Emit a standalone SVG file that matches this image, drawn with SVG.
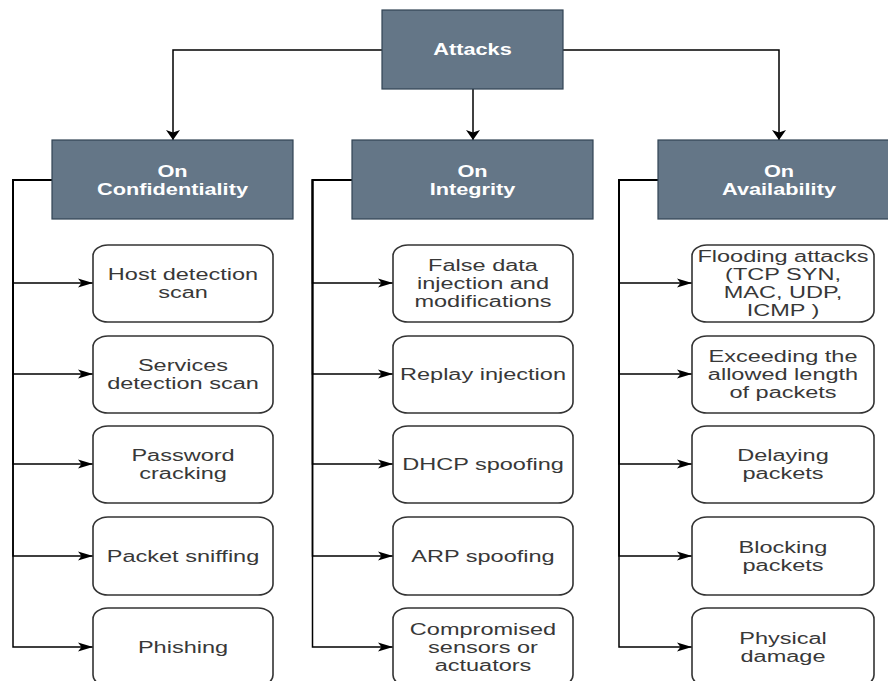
<svg xmlns="http://www.w3.org/2000/svg" width="888" height="681" viewBox="0 0 888 681">
  <style>
    .hdr { fill: #647687; stroke: #314354; stroke-width: 1.2; }
    .leaf { fill: #ffffff; stroke: #333333; stroke-width: 1.6; }
    .t { font-family: "Liberation Sans", Arial, sans-serif; font-size: 16px; text-anchor: middle; }
    .th { fill: #ffffff; font-weight: bold; }
    .tl { fill: #383838; }
    .edge { fill: none; stroke: #000000; stroke-width: 1.5; }
  </style>
  <defs>
    <marker id="arrH" markerUnits="userSpaceOnUse" orient="auto" markerWidth="20" markerHeight="12" refX="16" refY="6" viewBox="0 0 20 12">
      <path d="M16 6 L1 1.5 L4.5 6 L1 10.5 Z" fill="#000000"/>
    </marker>
    <marker id="arrV" markerUnits="userSpaceOnUse" orient="auto" markerWidth="14" markerHeight="18" refX="12" refY="9" viewBox="0 0 14 18">
      <path d="M12 9 L2 2 L4.5 9 L2 16 Z" fill="#000000"/>
    </marker>
  </defs>
  <rect width="888" height="681" fill="#ffffff"/>

  <g id="connectors">
    <path class="edge" d="M382 50 H173 V140" marker-end="url(#arrV)"/>
    <path class="edge" d="M473 89 V140" marker-end="url(#arrV)"/>
    <path class="edge" d="M563 50 H779 V140" marker-end="url(#arrV)"/>

    <path class="edge" d="M52 180 H13 V283 H93" marker-end="url(#arrH)"/>
    <path class="edge" d="M52 180 H13 V374 H93" marker-end="url(#arrH)"/>
    <path class="edge" d="M52 180 H13 V464 H93" marker-end="url(#arrH)"/>
    <path class="edge" d="M52 180 H13 V556 H93" marker-end="url(#arrH)"/>
    <path class="edge" d="M52 180 H13 V647 H93" marker-end="url(#arrH)"/>

    <path class="edge" d="M352 180 H312.5 V283 H393" marker-end="url(#arrH)"/>
    <path class="edge" d="M352 180 H312.5 V374 H393" marker-end="url(#arrH)"/>
    <path class="edge" d="M352 180 H312.5 V464 H393" marker-end="url(#arrH)"/>
    <path class="edge" d="M352 180 H312.5 V556 H393" marker-end="url(#arrH)"/>
    <path class="edge" d="M352 180 H312.5 V647 H393" marker-end="url(#arrH)"/>

    <path class="edge" d="M658 180 H619 V283 H692" marker-end="url(#arrH)"/>
    <path class="edge" d="M658 180 H619 V374 H692" marker-end="url(#arrH)"/>
    <path class="edge" d="M658 180 H619 V464 H692" marker-end="url(#arrH)"/>
    <path class="edge" d="M658 180 H619 V556 H692" marker-end="url(#arrH)"/>
    <path class="edge" d="M658 180 H619 V647 H692" marker-end="url(#arrH)"/>
  </g>

  <!-- root -->
  <g id="attacks">
    <rect class="hdr" x="382" y="10" width="181" height="79"/>
    <text class="t th" transform="translate(472.5 0) scale(1.36 1)"><tspan x="0" y="55.5">Attacks</tspan></text>
  </g>

  <!-- categories -->
  <g id="on-confidentiality">
    <rect class="hdr" x="52" y="140" width="241" height="79"/>
    <text class="t th" transform="translate(172.5 0) scale(1.36 1)"><tspan x="0" y="177">On</tspan><tspan x="0" y="195">Confidentiality</tspan></text>
  </g>
  <g id="on-integrity">
    <rect class="hdr" x="352" y="140" width="241" height="79"/>
    <text class="t th" transform="translate(472.5 0) scale(1.36 1)"><tspan x="0" y="177">On</tspan><tspan x="0" y="195">Integrity</tspan></text>
  </g>
  <g id="on-availability">
    <rect class="hdr" x="658" y="140" width="242" height="79"/>
    <text class="t th" transform="translate(779 0) scale(1.36 1)"><tspan x="0" y="177">On</tspan><tspan x="0" y="195">Availability</tspan></text>
  </g>

  <!-- confidentiality attacks -->
  <g id="host-detection-scan">
    <rect class="leaf" x="93" y="245" width="180" height="77" rx="15" ry="11"/>
    <text class="t tl" transform="translate(183 0) scale(1.47 1)"><tspan x="0" y="280.5">Host detection</tspan><tspan x="0" y="298.5">scan</tspan></text>
  </g>
  <g id="services-detection-scan">
    <rect class="leaf" x="93" y="336" width="180" height="77" rx="15" ry="11"/>
    <text class="t tl" transform="translate(183 0) scale(1.47 1)"><tspan x="0" y="371.5">Services</tspan><tspan x="0" y="389.5">detection scan</tspan></text>
  </g>
  <g id="password-cracking">
    <rect class="leaf" x="93" y="426" width="180" height="77" rx="15" ry="11"/>
    <text class="t tl" transform="translate(183 0) scale(1.47 1)"><tspan x="0" y="461.5">Password</tspan><tspan x="0" y="479.5">cracking</tspan></text>
  </g>
  <g id="packet-sniffing">
    <rect class="leaf" x="93" y="517" width="180" height="78" rx="15" ry="11"/>
    <text class="t tl" transform="translate(183 0) scale(1.47 1)"><tspan x="0" y="562">Packet sniffing</tspan></text>
  </g>
  <g id="phishing">
    <rect class="leaf" x="93" y="608" width="180" height="78" rx="15" ry="11"/>
    <text class="t tl" transform="translate(183 0) scale(1.47 1)"><tspan x="0" y="653">Phishing</tspan></text>
  </g>

  <!-- integrity attacks -->
  <g id="false-data-injection">
    <rect class="leaf" x="393" y="245" width="180" height="77" rx="15" ry="11"/>
    <text class="t tl" transform="translate(483 0) scale(1.47 1)"><tspan x="0" y="271.5">False data</tspan><tspan x="0" y="289.5">injection and</tspan><tspan x="0" y="307.5">modifications</tspan></text>
  </g>
  <g id="replay-injection">
    <rect class="leaf" x="393" y="336" width="180" height="77" rx="15" ry="11"/>
    <text class="t tl" transform="translate(483 0) scale(1.47 1)"><tspan x="0" y="380.5">Replay injection</tspan></text>
  </g>
  <g id="dhcp-spoofing">
    <rect class="leaf" x="393" y="426" width="180" height="77" rx="15" ry="11"/>
    <text class="t tl" transform="translate(483 0) scale(1.47 1)"><tspan x="0" y="470.5">DHCP spoofing</tspan></text>
  </g>
  <g id="arp-spoofing">
    <rect class="leaf" x="393" y="517" width="180" height="78" rx="15" ry="11"/>
    <text class="t tl" transform="translate(483 0) scale(1.47 1)"><tspan x="0" y="562">ARP spoofing</tspan></text>
  </g>
  <g id="compromised-sensors">
    <rect class="leaf" x="393" y="608" width="180" height="78" rx="15" ry="11"/>
    <text class="t tl" transform="translate(483 0) scale(1.47 1)"><tspan x="0" y="635">Compromised</tspan><tspan x="0" y="653">sensors or</tspan><tspan x="0" y="671">actuators</tspan></text>
  </g>

  <!-- availability attacks -->
  <g id="flooding-attacks">
    <rect class="leaf" x="692" y="245" width="182" height="77" rx="15" ry="11"/>
    <text class="t tl" transform="translate(783 0) scale(1.47 1)"><tspan x="0" y="262.5">Flooding attacks</tspan><tspan x="0" y="280.5">(TCP SYN,</tspan><tspan x="0" y="298.5">MAC, UDP,</tspan><tspan x="0" y="316.5">ICMP )</tspan></text>
  </g>
  <g id="exceeding-length">
    <rect class="leaf" x="692" y="336" width="182" height="77" rx="15" ry="11"/>
    <text class="t tl" transform="translate(783 0) scale(1.47 1)"><tspan x="0" y="362.5">Exceeding the</tspan><tspan x="0" y="380.5">allowed length</tspan><tspan x="0" y="398.5">of packets</tspan></text>
  </g>
  <g id="delaying-packets">
    <rect class="leaf" x="692" y="426" width="182" height="77" rx="15" ry="11"/>
    <text class="t tl" transform="translate(783 0) scale(1.47 1)"><tspan x="0" y="461.5">Delaying</tspan><tspan x="0" y="479.5">packets</tspan></text>
  </g>
  <g id="blocking-packets">
    <rect class="leaf" x="692" y="517" width="182" height="78" rx="15" ry="11"/>
    <text class="t tl" transform="translate(783 0) scale(1.47 1)"><tspan x="0" y="553">Blocking</tspan><tspan x="0" y="571">packets</tspan></text>
  </g>
  <g id="physical-damage">
    <rect class="leaf" x="692" y="608" width="182" height="78" rx="15" ry="11"/>
    <text class="t tl" transform="translate(783 0) scale(1.47 1)"><tspan x="0" y="644">Physical</tspan><tspan x="0" y="662">damage</tspan></text>
  </g>
</svg>
